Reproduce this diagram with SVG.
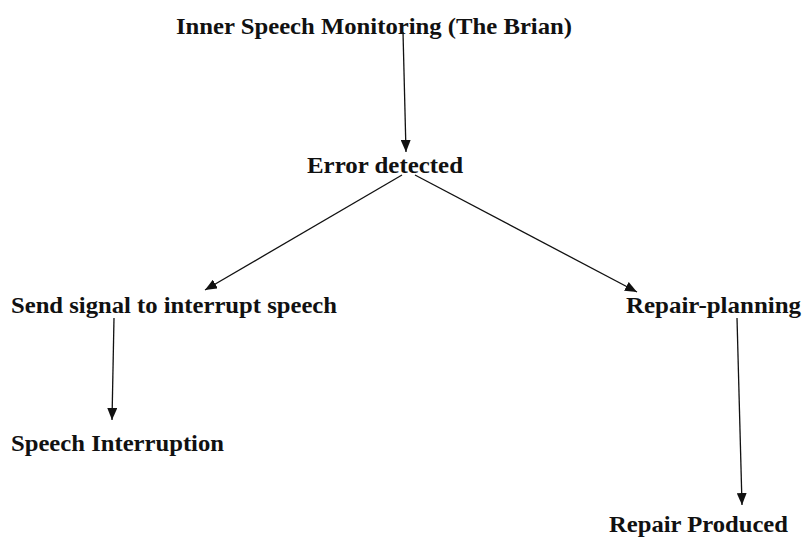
<svg xmlns="http://www.w3.org/2000/svg" width="802" height="538" viewBox="0 0 802 538">
<style>
text{font-family:"Liberation Serif","Times New Roman",serif;font-weight:bold;font-size:24px;fill:#111}
.c line{stroke:#111;stroke-width:1.3;fill:none;marker-end:url(#ah)}
</style>
<defs>
<marker id="ah" viewBox="0 0 12 10" refX="12" refY="5" markerWidth="12" markerHeight="10" markerUnits="userSpaceOnUse" orient="auto">
<path d="M0,0L12,5L0,10z" fill="#111"/>
</marker>
</defs>
<rect width="802" height="538" fill="#fff"/>
<g class="c">
<line x1="403" y1="32" x2="406" y2="152"/>
<line x1="402" y1="175" x2="205" y2="290"/>
<line x1="415" y1="175" x2="637" y2="292"/>
<line x1="114" y1="318" x2="112" y2="420"/>
<line x1="737" y1="318" x2="742" y2="505"/>
</g>
<g id="n1"><text x="176" y="34" textLength="396" lengthAdjust="spacingAndGlyphs">Inner Speech Monitoring (The Brian)</text></g>
<g id="n2"><text x="307" y="173" textLength="156" lengthAdjust="spacingAndGlyphs">Error detected</text></g>
<g id="n3"><text x="11" y="313" textLength="326" lengthAdjust="spacingAndGlyphs">Send signal to interrupt speech</text></g>
<g id="n4"><text x="626" y="313" textLength="175" lengthAdjust="spacingAndGlyphs">Repair-planning</text></g>
<g id="n5"><text x="11" y="451" textLength="213" lengthAdjust="spacingAndGlyphs">Speech Interruption</text></g>
<g id="n6"><text x="609" y="532" textLength="179" lengthAdjust="spacingAndGlyphs">Repair Produced</text></g>
</svg>
